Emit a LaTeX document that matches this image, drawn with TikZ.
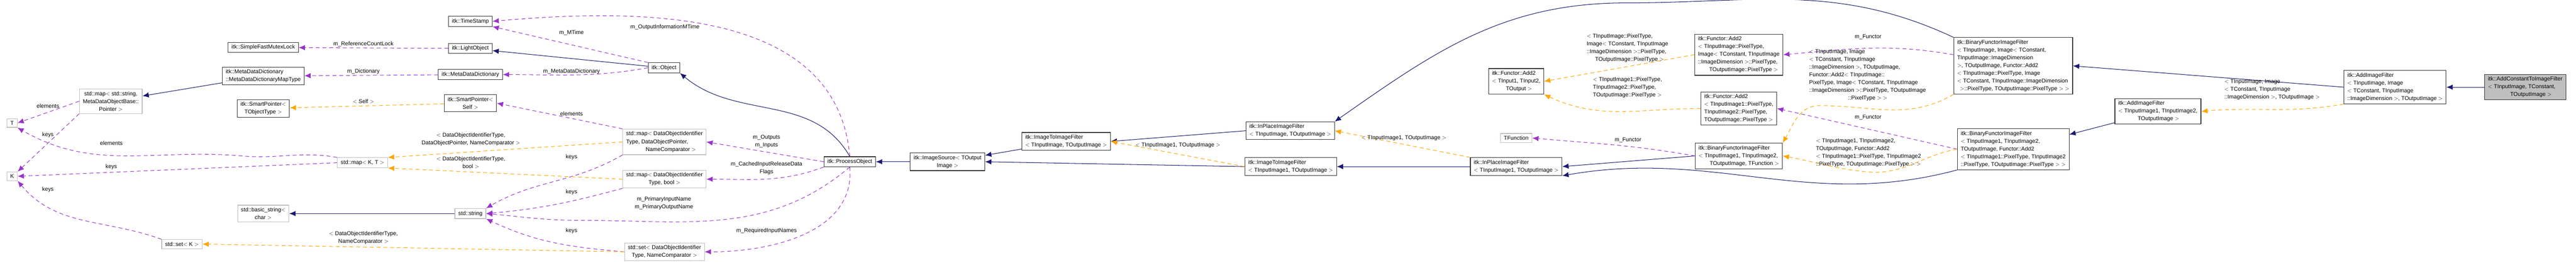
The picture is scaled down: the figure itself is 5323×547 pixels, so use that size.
\documentclass[tikz,border=0pt]{standalone}
\usepackage{fontspec}
\setmainfont{Liberation Sans}
\usetikzlibrary{arrows.meta,positioning}
\definecolor{inheritColor}{RGB}{25,25,112}
\definecolor{usageColor}{RGB}{153,50,204}
\definecolor{templateColor}{RGB}{255,165,0}
\definecolor{extColor}{RGB}{191,191,191}
\definecolor{currentColor}{RGB}{191,191,191}
\tikzset{cls/.style={draw=black!80, line width=1.2pt, fill=white, align=left, inner xsep=7pt, inner ysep=5pt, font=\fontsize{11.5}{16}\selectfont}}
\tikzset{ext/.style={cls, draw=extColor}}
\tikzset{current/.style={cls, fill=currentColor}}
\tikzset{lbl/.style={align=center, font=\fontsize{11.5}{16}\selectfont}}
\tikzset{inherit/.style={draw=inheritColor, line width=1.1pt, -{Latex[length=13pt,width=11pt]}}}
\tikzset{usage/.style={draw=usageColor, line width=1.1pt, dash pattern=on 8pt off 6pt, -{Latex[length=13pt,width=11pt]}}}
\tikzset{templ/.style={draw=templateColor, line width=1.1pt, dash pattern=on 8pt off 6pt, -{Latex[length=13pt,width=11pt]}}}

\begin{document}
\begin{tikzpicture}[x=1pt, y=-1pt]
	\useasboundingbox (0,0) rectangle (5323,547);
	% Nodes
	\node (tparam) [ext] at (25,254) {T};
	\node (kparam) [ext] at (25,364) {K};
	\node (metamap) [ext, align=center] at (229,209) {std::map$<$ std::string,\\ MetaDataObjectBase::\\ Pointer $>$};
	\node (mutexlock) [cls] at (544,98) {itk::SimpleFastMutexLock};
	\node (maptype) [cls] at (544,157) {itk::MetaDataDictionary\\ ::MetaDataDictionaryMapType};
	\node (smartpointerobj) [cls, align=center] at (544,224) {itk::SmartPointer$<$\\ TObjectType $>$};
	\node (mapkt) [ext] at (749,336) {std::map$<$ K, T $>$};
	\node (basicstring) [ext, align=center] at (544,441) {std::basic\_string$<$\\ char $>$};
	\node (setk) [ext] at (376,504) {std::set$<$ K $>$};

	\node (timestamp) [cls] at (972,44) {itk::TimeStamp};
	\node (lightobject) [cls] at (972,100) {itk::LightObject};
	\node (metadict) [cls] at (972,154) {itk::MetaDataDictionary};
	\node (smartpointerself) [cls, align=center] at (972,213) {itk::SmartPointer$<$\\ Self $>$};
	\node (stdstring) [ext] at (972,441) {std::string};
	\node (object) [cls] at (1372,140) {itk::Object};
	\node (mapoutputs) [ext] at (1373,293) {std::map$<$ DataObjectIdentifier\\ Type, DataObjectPointer,\\ \hspace*{3.5em}NameComparator $>$};
	\node (mapflags) [ext, align=center] at (1373,370) {std::map$<$ DataObjectIdentifier\\ Type, bool $>$};
	\node (setnames) [ext, align=center] at (1373,520) {std::set$<$ DataObjectIdentifier\\ Type, NameComparator $>$};
	\node (processobject) [cls] at (1756,334) {itk::ProcessObject};

	\node (imagesource) [cls, align=center] at (1958,334) {itk::ImageSource$<$ TOutput\\ Image $>$};
	\node (imagetoimage) [cls] at (2203,292) {itk::ImageToImageFilter\\ $<$ TInputImage, TOutputImage $>$};
	\node (inplace) [cls] at (2666,270) {itk::InPlaceImageFilter\\ $<$ TInputImage, TOutputImage $>$};
	\node (imagetoimageone) [cls] at (2667,344) {itk::ImageToImageFilter\\ $<$ TInputImage1, TOutputImage $>$};
	\node (addgeneric) [cls] at (3133,168) {itk::Functor::Add2\\ $<$ TInput1, TInput2,\\ \hspace*{2.5em}TOutput $>$};
	\node (tfunction) [ext] at (3133,285) {TFunction};
	\node (inplaceone) [cls] at (3133,344) {itk::InPlaceImageFilter\\ $<$ TInputImage1, TOutputImage $>$};
	\node (addconst) [cls] at (3593,113) {itk::Functor::Add2\\ $<$ TInputImage::PixelType,\\ Image$<$ TConstant, TInputImage\\ ::ImageDimension $>$::PixelType,\\ \hspace*{2em}TOutputImage::PixelType $>$};
	\node (addtwo) [cls] at (3593,224) {itk::Functor::Add2\\ $<$ TInputImage1::PixelType,\\ TInputImage2::PixelType,\\ TOutputImage::PixelType $>$};
	\node (binarygeneric) [cls] at (3593,322) {itk::BinaryFunctorImageFilter\\ $<$ TInputImage1, TInputImage2,\\ \hspace*{2em}TOutputImage, TFunction $>$};
	\node (binaryconst) [cls] at (4160,136) {itk::BinaryFunctorImageFilter\\ $<$ TInputImage, Image$<$ TConstant,\\ TInputImage::ImageDimension\\ $>$, TOutputImage, Functor::Add2\\ $<$ TInputImage::PixelType, Image\\ $<$ TConstant, TInputImage::ImageDimension\\ \hspace*{0.5em}$>$::PixelType, TOutputImage::PixelType $>$ $>$};
	\node (binarytwo) [cls] at (4160,308) {itk::BinaryFunctorImageFilter\\ $<$ TInputImage1, TInputImage2,\\ TOutputImage, Functor::Add2\\ $<$ TInputImage1::PixelType, TInputImage2\\ ::PixelType, TOutputImage::PixelType $>$ $>$};
	\node (addimagetwo) [cls] at (4459,230) {itk::AddImageFilter\\ $<$ TInputImage1, TInputImage2,\\ \hspace*{3.5em}TOutputImage $>$};
	\node (addimageconst) [cls] at (4949,180) {itk::AddImageFilter\\ $<$ TInputImage, Image\\ $<$ TConstant, TInputImage\\ ::ImageDimension $>$, TOutputImage $>$};
	\node (addconstanttoimage) [current] at (5218,180) {itk::AddConstantToImageFilter\\ $<$ TInputImage, TConstant,\\ \hspace*{4em}TOutputImage $>$};

	% Connectors
	\begin{scope}
	\draw [inherit] (maptype) -- (metamap);
	\draw [inherit] (object) -- (lightobject);
	\draw [inherit] (processobject.north) to[out=120,in=-40] (object.south east);
	\draw [inherit] (stdstring) -- (basicstring);
	\draw [inherit] (imagesource) -- (processobject);
	\draw [inherit] (imagetoimage) -- (imagesource);
	\draw [inherit] (imagetoimageone.west) -- (imagesource.east);
	\draw [inherit] (inplace.west) -- (imagetoimage.east);
	\draw [inherit] (inplaceone) -- (imagetoimageone);
	\draw [inherit] (binarygeneric.west) -- (inplaceone.east);
	\draw [inherit] (binarytwo.south west) to[out=-165,in=10] (inplaceone.south east);
	\draw [inherit] (binaryconst.north west) to[out=155,in=0] (3360,6) to[out=180,in=35] (inplace.north east);
	\draw [inherit] (addimagetwo) -- (binarytwo);
	\draw [inherit] (addimageconst.west) -- (binaryconst.east);
	\draw [inherit] (addconstanttoimage) -- (addimageconst);

	\draw [usage] (lightobject) -- (mutexlock);
	\draw [usage] (metadict) -- (maptype);
	\draw [usage] (object.north west) -- (timestamp.south east);
	\draw [usage] (processobject.north) to[out=95,in=5] (timestamp.east);
	\draw [usage] (object.west) to[out=190,in=0] (metadict.east);
	\draw [usage] (mapoutputs.north west) -- (smartpointerself.east);
	\draw [usage] (processobject.west) -- (mapoutputs.east);
	\draw [usage] (processobject.south west) to[out=-160,in=0] (mapflags.east);
	\draw [usage] (processobject.south) to[out=-140,in=0] (1200,455) to[out=180,in=-5] (stdstring.east);
	\draw [usage] (processobject.south) to[out=-85,in=0] (setnames.east);
	\draw [usage] (mapoutputs.south west) to[out=-150,in=30] (stdstring.north east);
	\draw [usage] (mapflags.south west) to[out=-165,in=5] (stdstring.east);
	\draw [usage] (setnames.west) to[out=175,in=-25] (stdstring.south east);
	\draw [usage] (metamap.west) -- (tparam.east);
	\draw [usage] (metamap.south west) -- (kparam.north east);
	\draw [usage] (mapkt.north west) to[out=170,in=-5] (500,322) to[out=175,in=-30] (tparam.south east);
	\draw [usage] (mapkt.west) -- (kparam.east);
	\draw [usage] (setk.north west) to[out=160,in=-50] (kparam.south east);
	\draw [usage] (binarygeneric.west) to[out=170,in=-5] (tfunction.east);
	\draw [usage] (binaryconst.west |- addconst.east) to[out=170,in=5] (addconst.east);
	\draw [usage] (binarytwo.west) -- (addtwo.east);

	\draw [templ] (smartpointerself) -- (smartpointerobj);
	\draw [templ] (mapoutputs.west) -- (mapkt.north east);
	\draw [templ] (mapflags.west) -- (mapkt.south east);
	\draw [templ] (setnames.west) -- (setk.east);
	\draw [templ] (imagetoimageone.west) -- (imagetoimage.east);
	\draw [templ] (inplaceone.north west) -- (inplace.east);
	\draw [templ] (addconst.west) -- (addgeneric.east);
	\draw [templ] (addtwo.west) to[out=180,in=-25] (addgeneric.south east);
	\draw [templ] (binaryconst.south west) to[out=-150,in=0] (3760,218) to[out=180,in=60] (binarygeneric.north east);
	\draw [templ] (binarytwo.west) to[out=-170,in=-5] (3860,355) to[out=175,in=-10] (binarygeneric.east);
	\draw [templ] (addimageconst.south west) to[out=-170,in=5] (addimagetwo.east);
	\end{scope}

	% Labels
	\node (lbrefcount) [lbl] at (751,91) {m\_ReferenceCountLock};
	\node (lbdictionary) [lbl] at (751,148) {m\_Dictionary};
	\node (lbself) [lbl] at (751,209) {$<$ Self $>$};
	\node (lbmapoutputs) [lbl] at (973,288) {$<$ DataObjectIdentifierType,\\ DataObjectPointer, NameComparator $>$};
	\node (lbmapflags) [lbl] at (973,336) {$<$ DataObjectIdentifierType,\\ bool $>$};
	\node (lbsetnames) [lbl] at (751,491) {$<$ DataObjectIdentifierType,\\ NameComparator $>$};
	\node (lbouttime) [lbl] at (1374,56) {m\_OutputInformationMTime};
	\node (lbmtime) [lbl] at (1181,68) {m\_MTime};
	\node (lbmetadict) [lbl] at (1181,148) {m\_MetaDataDictionary};
	\node (lbelemself) [lbl] at (1181,235) {elements};
	\node (lbkeysone) [lbl] at (1181,324) {keys};
	\node (lbkeystwo) [lbl] at (1181,397) {keys};
	\node (lbkeysthree) [lbl] at (1181,477) {keys};
	\node (lbprimary) [lbl] at (1372,420) {m\_PrimaryInputName\\ m\_PrimaryOutputName};
	\node (lbinout) [lbl] at (1584,292) {m\_Outputs\\ m\_Inputs};
	\node (lbcached) [lbl] at (1584,347) {m\_CachedInputReleaseData\\ Flags};
	\node (lbrequired) [lbl] at (1584,477) {m\_RequiredInputNames};
	\node (lbelemt) [lbl] at (99,219) {elements};
	\node (lbkeysk) [lbl] at (99,279) {keys};
	\node (lbelemkt) [lbl] at (230,296) {elements};
	\node (lbkeyskt) [lbl] at (230,345) {keys};
	\node (lbkeysset) [lbl] at (99,391) {keys};
	\node (lbimagetoimage) [lbl] at (2434,300) {$<$ TInputImage1, TOutputImage $>$};
	\node (lbinplace) [lbl] at (2901,285) {$<$ TInputImage1, TOutputImage $>$};
	\node (lbaddconst) [lbl, align=left] at (3363,99) {$<$ TInputImage::PixelType,\\ Image$<$ TConstant, TInputImage\\ ::ImageDimension $>$::PixelType,\\ \hspace*{1.5em}TOutputImage::PixelType $>$};
	\node (lbaddtwo) [lbl, align=left] at (3363,181) {$<$ TInputImage1::PixelType,\\ TInputImage2::PixelType,\\ TOutputImage::PixelType $>$};
	\node (lbfunctorone) [lbl] at (3364,289) {m\_Functor};
	\node (lbfunctortwo) [lbl] at (3860,77) {m\_Functor};
	\node (lbbinaryconst) [lbl, align=left] at (3859,155) {$<$ TInputImage, Image\\ $<$ TConstant, TInputImage\\ ::ImageDimension $>$, TOutputImage,\\ Functor::Add2$<$ TInputImage::\\ PixelType, Image$<$ TConstant, TInputImage\\ ::ImageDimension $>$::PixelType, TOutputImage\\ \hspace*{7em}::PixelType $>$ $>$};
	\node (lbfunctorthree) [lbl] at (3860,243) {m\_Functor};
	\node (lbbinarytwo) [lbl, align=left] at (3861,315) {$<$ TInputImage1, TInputImage2,\\ TOutputImage, Functor::Add2\\ $<$ TInputImage1::PixelType, TInputImage2\\ ::PixelType, TOutputImage::PixelType $>$ $>$};
	\node (lbaddimage) [lbl, align=left] at (4695,185) {$<$ TInputImage, Image\\ $<$ TConstant, TInputImage\\ ::ImageDimension $>$, TOutputImage $>$};
\end{tikzpicture}
\end{document}
